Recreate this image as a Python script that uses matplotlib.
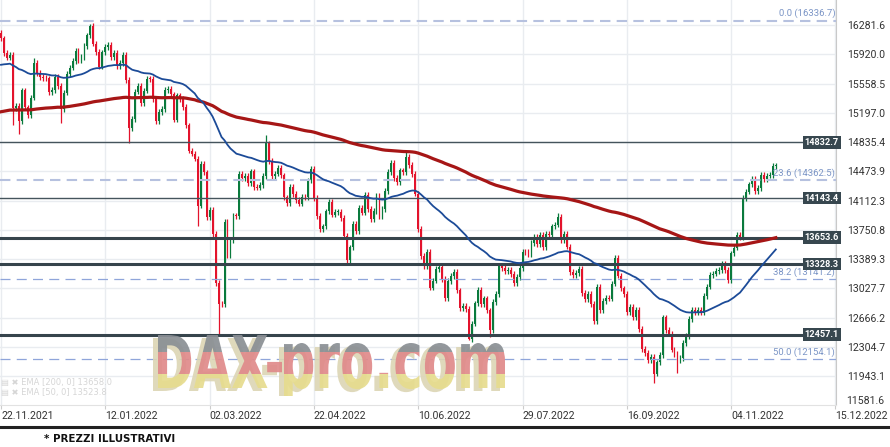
import numpy as np
import matplotlib.pyplot as plt
from matplotlib.patches import PathPatch
from matplotlib.textpath import TextPath
from matplotlib.font_manager import FontProperties
from matplotlib.transforms import Affine2D, Bbox

# chiusure giornaliere (22.11.2021 -> 25.11.2022)
chiusure = [
    16115, 15937, 15878, 15917, 15257, 15280, 15100, 15473, 15263, 15170,
    15386, 15813, 15687, 15639, 15623, 15621, 15453, 15476, 15636, 15531,
    15240, 15447, 15676, 15756, 15838, 15964, 15853, 15885, 16021, 16152,
    16271, 16052, 15948, 15768, 15942, 16011, 16031, 15883, 15933, 15772,
    15810, 15912, 15603, 15011, 15123, 15460, 15524, 15318, 15471, 15619,
    15613, 15368, 15100, 15207, 15242, 15482, 15490, 15425, 15114, 15412,
    15370, 15267, 15042, 14731, 14693, 14631, 14052, 14567, 14461, 13905,
    14000, 13698, 13094, 12835, 12831, 13848, 13443, 13628, 13929, 13917,
    14440, 14388, 14413, 14326, 14474, 14283, 14274, 14306, 14417, 14820,
    14605, 14415, 14446, 14518, 14424, 14152, 14078, 14284, 14193, 14124,
    14076, 14163, 14153, 14362, 14502, 14142, 13924, 13757, 13794, 13979,
    14098, 13940, 13970, 13971, 13902, 13674, 13380, 13535, 13828, 13739,
    14027, 13964, 14185, 14008, 13882, 13981, 14175, 13919, 14008, 14231,
    14462, 14575, 14388, 14340, 14485, 14460, 14653, 14556, 14445, 14199,
    13761, 13427, 13304, 13483, 13038, 13126, 13265, 13292, 13144, 12912,
    13118, 13186, 13231, 13003, 12784, 12813, 12773, 12401, 12595, 12843,
    13015, 12832, 12905, 12756, 12519, 12864, 12959, 13308, 13281, 13246,
    13254, 13210, 13097, 13166, 13282, 13484, 13479, 13449, 13587, 13662,
    13573, 13688, 13535, 13700, 13694, 13795, 13816, 13910, 13627, 13697,
    13545, 13230, 13195, 13220, 13271, 12971, 12893, 12961, 12835, 12630,
    13050, 12761, 12871, 12916, 12904, 13088, 13402, 13188, 13028, 12956,
    12741, 12803, 12671, 12767, 12531, 12284, 12227, 12139, 12184, 11976,
    12114, 12209, 12671, 12517, 12470, 12273, 12220, 12139, 12172, 12355,
    12438, 12650, 12765, 12741, 12767, 12731, 12931, 13052, 13195, 13211,
    13243, 13253, 13338, 13257, 13130, 13460, 13533, 13688, 13666, 14146,
    14224, 14313, 14379, 14234, 14267, 14431, 14380, 14422, 14428, 14539,
    14541,
]
apertura_iniziale = 16180

# ombre lunghe visibili nel grafico
massimi_extra = {11: 15870, 30: 16290, 89: 14925, 136: 14715, 187: 13960, 206: 13440}
minimi_extra = {4: 15050, 6: 14930, 20: 15070, 43: 14830, 66: 13800, 73: 12440,
                116: 13320, 157: 12390, 164: 12430, 219: 11860, 227: 11980}

date_etichette = ['22.11.2021', '12.01.2022', '02.03.2022', '22.04.2022', '10.06.2022',
                  '29.07.2022', '16.09.2022', '04.11.2022', '15.12.2022']
date_pos = [0, 35, 70, 105, 140, 175, 210, 245, 280]

prezzi_asse = [16281.6, 15920.0, 15558.5, 15197.0, 14835.4, 14473.9, 14112.3,
               13750.8, 13389.3, 13027.7, 12666.2, 12304.7, 11943.1]

livelli_sottili = [14832.7, 14143.4]
livelli_spessi = [13653.6, 13328.3, 12457.1]
fib_livelli = [16336.7, 14362.5, 13141.2, 12154.1]
fib_nomi = ['0.0', '23.6', '38.2', '50.0']

ema50_inizio = 15790
ema200_inizio = 15210

verde = '#0a7a3d'
rosso = '#e3132c'
font_assi = ['Roboto', 'DejaVu Sans']


def ema(valori, n, inizio):
    a = 2 / (n + 1)
    out = [inizio]
    for v in valori[1:]:
        out.append(out[-1] + a * (v - out[-1]))
    return np.array(out)


chiusure = np.array(chiusure, dtype=float)
n = len(chiusure)
aperture = np.concatenate([[apertura_iniziale], chiusure[:-1]])
massimi = np.maximum(aperture, chiusure) + 35
minimi = np.minimum(aperture, chiusure) - 35
for k, v in massimi_extra.items():
    massimi[k] = v
for k, v in minimi_extra.items():
    minimi[k] = v

fig = plt.figure(figsize=(8.9, 4.47), dpi=100)
ax = fig.add_axes([0, 1 - 405 / 447, 836 / 890, 405 / 447])
ax.set_xlim(-0.336, 280.2)
ax.set_ylim(11589, 16590)

# griglia
for p in prezzi_asse:
    ax.axhline(p, color='#e9ecf0', lw=1, zorder=0)
for d in date_pos:
    ax.axvline(d, color='#e9ecf0', lw=1, zorder=0)

# candele
x = np.arange(n)
colori = [verde if c >= o else rosso for o, c in zip(aperture, chiusure)]
ax.vlines(x, minimi, massimi, colors=colori, lw=0.9, zorder=2)
corpo = np.maximum(np.abs(chiusure - aperture), 10)
ax.bar(x, corpo, bottom=np.minimum(aperture, chiusure), width=0.62,
       color=colori, linewidth=0, zorder=2)

# livelli orizzontali
for p in livelli_sottili:
    ax.plot([-1, 269], [p, p], color='#45545c', lw=1.0, zorder=3)
for p in livelli_spessi:
    ax.plot([-1, 269], [p, p], color='#36444c', lw=2.2, zorder=3)

for i, p in enumerate(fib_livelli):
    if i < 2:
        ax.axhline(p, color='#b6c1df', lw=1.5, ls=(0, (5, 3)), zorder=3)
    else:
        ax.axhline(p, color='#8fa5da', lw=0.9, ls=(0, (8, 5)), zorder=3)
    ax.text(0.999, p + 85, f'{fib_nomi[i]} ({p:.1f})', transform=ax.get_yaxis_transform(),
            ha='right', va='center', fontsize=6.8, color='#7b95c6', zorder=4, family=font_assi)

# medie mobili
ax.plot(x, ema(chiusure, 200, ema200_inizio), color='#a61616', lw=2.3, zorder=4)
ax.plot(x, ema(chiusure, 50, ema50_inizio), color='#1c4b98', lw=1.3, zorder=4)

for p in livelli_sottili + livelli_spessi:
    ax.text(1.0035, p, f'{p:.1f}', transform=ax.get_yaxis_transform(), ha='right', va='center',
            fontsize=6.6, fontweight='bold', color='white', clip_on=False, zorder=6,
            family=font_assi, bbox=dict(boxstyle='square,pad=0.2', fc='#37474f', ec='none'))

# assi
ax.set_yticks(prezzi_asse)
ax.set_yticklabels([f'{p:.1f}' for p in prezzi_asse], family=font_assi)
ax.yaxis.tick_right()
ax.tick_params(axis='y', length=0, pad=8, labelsize=7.6, labelcolor='#333333')
ax.set_xticks(date_pos)
ax.set_xticklabels(date_etichette, family=font_assi)
for t in ax.get_xticklabels():
    t.set_ha('left')
ax.tick_params(axis='x', length=3, color='#cccccc', pad=1.5, labelsize=7.6, labelcolor='#333333')
for s in ['top', 'left']:
    ax.spines[s].set_visible(False)
ax.spines['right'].set_color('#c9c9c9')
ax.spines['bottom'].set_color('#e2e2e2')
fig.text(846 / 890, 1 - 401 / 447, '11581.6', fontsize=7.6, color='#333333', va='center',
         family=font_assi)

# legenda EMA sbiadita
ax.text(0.004, 11870, '▤ ✖ EMA [200, 0] 13658.0', fontsize=6, color='#d6d6d6', va='center')
ax.text(0.004, 11740, '▤ ✖ EMA [50, 0] 13523.8', fontsize=6, color='#d6d6d6', va='center')

# filigrana: "DAX-" in maiuscolo e "pro.com" con minuscole alte
fp = FontProperties(family='DejaVu Sans', weight='bold')
H = 447
pezzi = [('DAX-', 158, 282, 'D', 335), ('pro.com', 284, 505, 'o', 343)]
fasce = [('#8a8f94', 333, 352), ('#e08a8a', 352, 374), ('#e6dc8e', 374, 396)]
for testo, xa, xb, rif, ytop in pezzi:
    tp = TextPath((0, 0), testo, size=100, prop=fp)
    bb = tp.get_extents()
    rb = TextPath((0, 0), rif, size=100, prop=fp).get_extents()
    sx = (xb - xa) / bb.width
    sy = (388 - ytop) / rb.y1
    tx = xa - bb.x0 * sx
    ty = H - 388
    ombra = PathPatch(tp, transform=Affine2D().scale(sx, sy).translate(tx - 5, ty - 3),
                      fc='#dcd5b4', ec='none', alpha=0.9, zorder=10)
    ombra.set_clip_box(Bbox([[0, H - 396], [890, H - 333]]))
    fig.add_artist(ombra)
    for col, y0, y1 in fasce:
        pp = PathPatch(tp, transform=Affine2D().scale(sx, sy).translate(tx, ty),
                       fc=col, ec='none', alpha=0.92, zorder=11)
        pp.set_clip_box(Bbox([[0, H - y1], [890, H - y0]]))
        fig.add_artist(pp)

# barra in basso e nota
fig.add_artist(plt.Line2D([0, 1], [1 - 427 / 447, 1 - 427 / 447], color='#222222', lw=2.2))
fig.text(44 / 890, 1 - 439 / 447, '* PREZZI ILLUSTRATIVI', fontsize=7.4, fontweight='bold',
         color='#111111', va='center')

fig.savefig('out.png', dpi=100)
